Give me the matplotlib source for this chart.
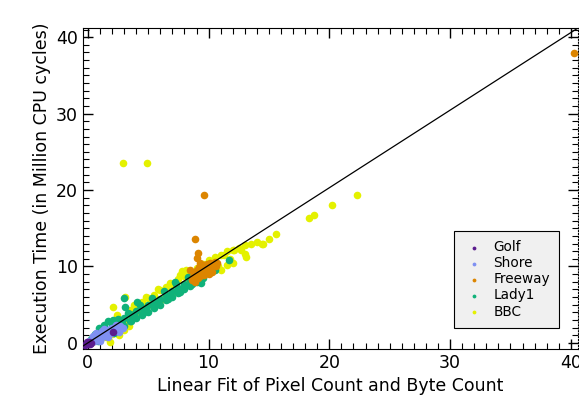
import matplotlib
matplotlib.use('Agg')
import matplotlib.pyplot as plt
from matplotlib.ticker import MultipleLocator

# per-video samples: (linear fit value, measured execution time)
golf_x = [-0.2, -0.1, 0.0, 0.1, 0.2, 0.3, 2.1]
golf_y = [-0.3, 0.1, -0.1, 0.1, -0.2, 0.0, 1.4]

shore_x = [0.1, 0.3, 0.5, 0.6, 0.8, 0.9, 1.0, 1.1, 1.2, 1.4, 1.5, 1.6, 1.8, 1.9,
           2.0, 2.2, 2.4, 2.5, 2.7, 2.9, 0.4, 1.3, 1.7, 2.3, 0.7, 1.0, 1.5, 2.6]
shore_y = [0.2, 0.1, 0.6, 0.2, 0.9, 0.4, 1.2, 0.7, 1.5, 0.9, 1.6, 1.1, 1.8, 1.3,
           2.0, 1.6, 2.0, 1.7, 2.2, 2.0, 0.9, 1.8, 0.8, 2.3, 1.3, 0.3, 1.3, 1.4]

freeway_x = [8.5, 8.6, 8.8, 8.9, 9.0, 9.1, 9.2, 9.3, 9.4, 9.5, 9.6, 9.8, 9.9, 10.0,
             10.1, 10.3, 10.5, 10.7, 8.7, 9.0, 9.4, 9.7, 10.2, 10.4, 9.3, 9.0,
             9.1, 8.9, 9.6, 40.3, 8.8, 9.6, 10.0, 10.6]
freeway_y = [9.5, 8.2, 9.0, 8.0, 9.6, 8.5, 9.9, 8.8, 10.0, 9.1, 10.2, 9.4, 10.3, 9.7,
             10.4, 9.3, 10.6, 10.5, 8.6, 9.2, 9.4, 10.0, 9.8, 10.2, 10.5, 11.1,
             11.8, 13.6, 19.3, 37.9, 8.7, 8.9, 9.0, 10.0]

lady1_x = [0.3, 0.6, 0.8, 1.2, 1.5, 2.0, 2.2, 2.5, 3.0, 3.0, 3.5, 3.5, 4.0, 4.0,
           4.5, 4.5, 5.0, 5.0, 5.5, 5.5, 6.0, 6.0, 6.5, 6.5, 7.0, 7.0, 7.5, 7.5,
           8.0, 8.0, 8.5, 8.5, 9.0, 9.0, 9.5, 10.0, 10.5, 1.0, 1.8, 2.8, 3.8,
           4.8, 5.8, 6.8, 7.8, 8.8, 3.0, 3.1, 4.1, 7.2, 9.4, 11.65, 2.1,
           2.5, 3.3, 4.3, 5.3, 6.3, 7.3, 8.3, 9.2, 3.6, 4.6, 5.6, 6.6, 7.6,
           8.6, 1.3, 0.9, 1.7]
lady1_y = [0.5, 1.2, 0.3, 1.8, 0.9, 2.5, 1.3, 2.0, 3.2, 2.2, 2.8, 3.8, 3.3, 4.2,
           3.6, 4.6, 4.1, 5.0, 4.6, 5.4, 5.0, 5.8, 5.6, 6.3, 6.0, 6.8, 6.5, 7.2,
           7.0, 7.7, 7.4, 8.2, 8.0, 8.6, 8.5, 9.2, 9.6, 1.3, 1.6, 2.6, 3.5,
           4.4, 5.3, 6.2, 7.1, 8.0, 5.9, 4.7, 5.4, 8.0, 7.8, 10.85, 3.0,
           3.1, 3.9, 4.9, 5.9, 6.8, 7.7, 8.6, 9.3, 2.9, 3.9, 4.9, 5.8, 6.7,
           7.7, 2.4, 1.9, 2.8]

bbc_x = [0.5, 1.0, 1.5, 1.8, 2.0, 2.6, 1.2, 2.1, 2.4, 3.1, 3.5, 4.0, 4.5, 5.0,
         5.5, 6.0, 6.5, 7.0, 7.5, 7.8, 8.0, 8.5, 9.0, 9.5, 10.0, 10.5, 11.0,
         11.3, 11.5, 12.0, 12.1, 12.5, 12.7, 13.0, 13.1, 13.5, 14.0, 14.4, 14.5,
         15.0, 15.6, 11.0, 11.5, 12.0, 13.0, 3.3, 4.3, 5.3, 6.3, 7.3, 8.3,
         2.9, 4.9, 18.3, 18.7, 20.2, 22.3, 3.8, 4.8, 5.8, 6.8, 7.6, 8.1,
         3.0, 3.4, 2.7, 6.2, 7.1, 10.8, 11.8]
bbc_y = [0.2, 0.4, 0.8, 0.1, 1.2, 1.0, 1.6, 4.7, 3.7, 6.0, 4.3, 4.9, 5.4, 5.9,
         6.3, 6.9, 7.3, 7.7, 8.3, 9.4, 8.7, 9.3, 9.8, 10.3, 10.8, 11.2, 11.5,
         11.5, 12.0, 12.2, 12.1, 12.4, 12.2, 12.8, 11.2, 12.9, 13.2, 12.9, 13.0,
         13.6, 14.2, 9.5, 10.2, 10.5, 11.6, 3.0, 3.9, 4.9, 5.9, 6.8, 7.8,
         23.5, 23.6, 16.3, 16.7, 18.0, 19.4, 5.0, 6.0, 7.0, 7.9, 8.9, 9.6,
         1.7, 2.2, 2.0, 5.8, 6.6, 10.0, 11.0]

# least-squares fit line
fit_slope = 1.015
fit_intercept = 0.0

series = [
    ('Golf', golf_x, golf_y, '#5b1c8e', 6),
    ('Shore', shore_x, shore_y, '#7f90f2', 5),
    ('Freeway', freeway_x, freeway_y, '#dc8500', 4),
    ('Lady1', lady1_x, lady1_y, '#10b27a', 3),
    ('BBC', bbc_x, bbc_y, '#e4f100', 2),
]

fig = plt.figure(figsize=(5.79, 4.03), dpi=100)
ax = fig.add_axes([0.1434, 0.134, 0.855, 0.7965])

for name, xs, ys, color, z in series:
    ax.scatter(xs, ys, s=30, color=color, linewidths=0, label=name, zorder=z)

line_x = [-1, 45]
ax.plot(line_x, [fit_slope * v + fit_intercept for v in line_x],
        color='black', lw=0.9, zorder=10)

ax.set_xlim(-0.4, 40.6)
ax.set_ylim(-0.8, 41.2)
ax.xaxis.set_major_locator(MultipleLocator(10))
ax.yaxis.set_major_locator(MultipleLocator(10))
ax.xaxis.set_minor_locator(MultipleLocator(1))
ax.yaxis.set_minor_locator(MultipleLocator(1))
ax.tick_params(which='both', direction='in', top=True, right=True, labelsize=12.5)
ax.tick_params(which='major', length=7, width=1)
ax.tick_params(which='minor', length=4, width=0.8)
ax.spines['right'].set_linestyle(':')

ax.set_xlabel('Linear Fit of Pixel Count and Byte Count', fontsize=12.5)
ax.set_ylabel('Execution Time (in Million CPU cycles)', fontsize=12.5)

leg = ax.legend(loc='lower right', bbox_to_anchor=(0.976, 0.044), fontsize=9.8,
                markerscale=0.5, frameon=True, fancybox=False, framealpha=1,
                edgecolor='black', facecolor='#f0f0f0', handletextpad=0.6,
                handlelength=1.6, labelspacing=0.15, borderpad=0.7)
leg.get_frame().set_linewidth(0.8)

fig.savefig('out.png', dpi=100)
